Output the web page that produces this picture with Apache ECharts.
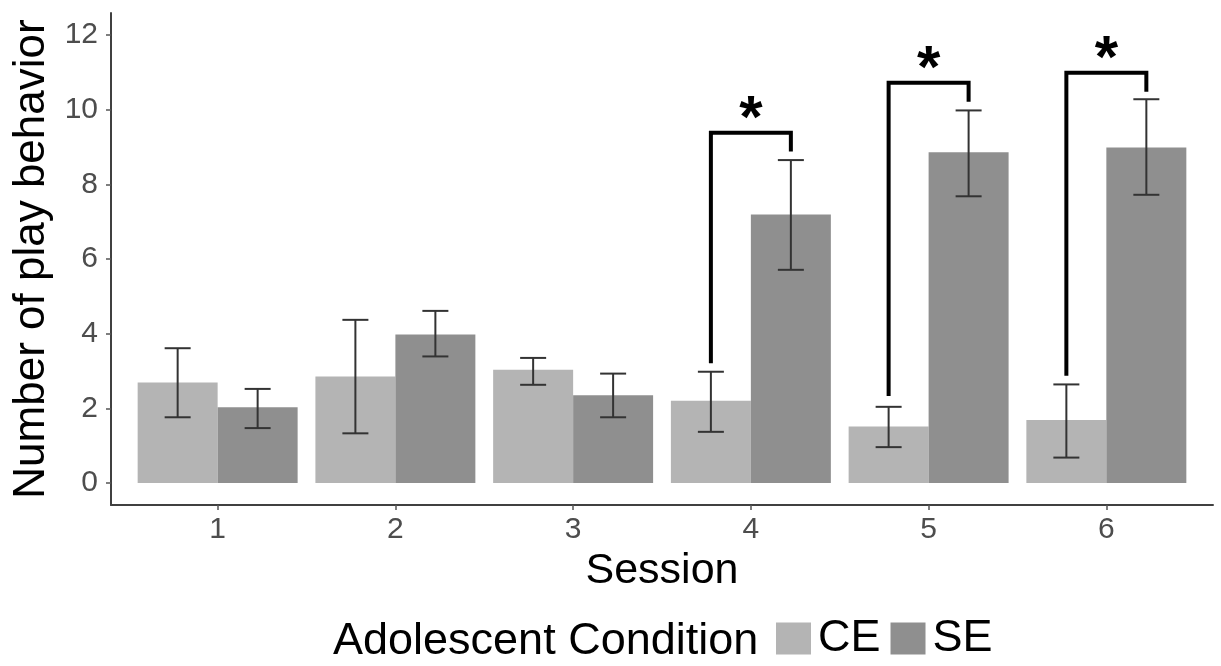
<!DOCTYPE html>
<html>
<head>
<meta charset="utf-8">
<script src="https://cdn.jsdelivr.net/npm/echarts@6/dist/echarts.min.js"></script>
<style>
html,body{margin:0;padding:0;background:#fff;}
#chart{width:1221px;height:666px;}
</style>
</head>
<body>
<div id="chart"></div>
<script>
// ---- data ----
var sessions = [1, 2, 3, 4, 5, 6];
var ceMean = [2.69, 2.85, 3.03, 2.20, 1.51, 1.69];
var ceLow  = [1.76, 1.33, 2.63, 1.37, 0.96, 0.68];
var ceHigh = [3.61, 4.37, 3.35, 2.98, 2.04, 2.64];
var seMean = [2.03, 3.98, 2.35, 7.19, 8.86, 8.99];
var seLow  = [1.47, 3.39, 1.76, 5.71, 7.68, 7.72];
var seHigh = [2.52, 4.61, 2.93, 8.65, 9.98, 10.28];
var bracketSession = [4, 5, 6];
var bracketLeftStart = [3.21, 2.33, 2.87];
var bracketTop = [9.38, 10.72, 10.99];
var bracketRightEnd = [8.88, 10.21, 10.48];
var bracketLabel = ['*', '*', '*'];
var xTicks = [1, 2, 3, 4, 5, 6];
var yTicks = [0, 2, 4, 6, 8, 10, 12];

// ---- layout / style ----
var FONT = "'Liberation Sans', Arial, Helvetica, sans-serif";
var CE_COLOR = '#b4b4b4';
var SE_COLOR = '#8f8f8f';
var DODGE = 0.225;   // bar center offset within a session
var HALF_BAR = 0.225;

function barSeries(name, offset, means, color) {
  return {
    name: name,
    type: 'custom',
    itemStyle: { color: color },
    encode: { x: 0, y: 1 },
    data: sessions.map(function (s, i) { return [s, means[i]]; }),
    renderItem: function (params, api) {
      var x = api.value(0) + offset;
      var y = api.value(1);
      var p0 = api.coord([x - HALF_BAR, y]);
      var p1 = api.coord([x + HALF_BAR, 0]);
      return {
        type: 'rect',
        shape: { x: p0[0], y: p0[1], width: p1[0] - p0[0], height: p1[1] - p0[1] },
        style: { fill: color }
      };
    }
  };
}

function errSeries(offset, lows, highs) {
  return {
    type: 'custom',
    silent: true,
    encode: { x: 0, y: [1, 2] },
    data: sessions.map(function (s, i) { return [s, lows[i], highs[i]]; }),
    renderItem: function (params, api) {
      var x = api.value(0) + offset;
      var lo = api.coord([x, api.value(1)]);
      var hi = api.coord([x, api.value(2)]);
      var hw = 13;
      var st = { stroke: '#333333', lineWidth: 2, fill: null };
      return {
        type: 'group',
        children: [
          { type: 'line', shape: { x1: lo[0], y1: lo[1], x2: hi[0], y2: hi[1] }, style: st },
          { type: 'line', shape: { x1: lo[0] - hw, y1: lo[1], x2: lo[0] + hw, y2: lo[1] }, style: st },
          { type: 'line', shape: { x1: hi[0] - hw, y1: hi[1], x2: hi[0] + hw, y2: hi[1] }, style: st }
        ]
      };
    }
  };
}

var bracketSeries = {
  type: 'custom',
  silent: true,
  encode: { x: 0, y: [1, 2, 3] },
  data: bracketSession.map(function (s, i) {
    return [s, bracketLeftStart[i], bracketTop[i], bracketRightEnd[i]];
  }),
  renderItem: function (params, api) {
    var s = api.value(0);
    var a = api.coord([s - DODGE, api.value(1)]);
    var b = api.coord([s - DODGE, api.value(2)]);
    var c = api.coord([s + DODGE, api.value(2)]);
    var d = api.coord([s + DODGE, api.value(3)]);
    var mid = api.coord([s, api.value(2)]);
    return {
      type: 'group',
      children: [
        {
          type: 'polyline',
          shape: { points: [a, b, c, d] },
          style: { stroke: '#000', lineWidth: 4, fill: null, lineJoin: 'miter', lineCap: 'butt' }
        },
        {
          type: 'text',
          x: mid[0],
          y: mid[1] - 12,
          style: {
            text: bracketLabel[params.dataIndex],
            fill: '#000',
            font: 'bold 60px ' + FONT,
            align: 'center',
            verticalAlign: 'middle'
          }
        }
      ]
    };
  }
};

var chart = echarts.init(document.getElementById('chart'), null, { renderer: 'canvas' });
chart.setOption({
  animation: false,
  backgroundColor: '#ffffff',
  grid: { left: 111, right: 8, top: 13, bottom: 161, containLabel: false },
  title: {
    text: 'Adolescent Condition',
    left: 333,
    top: 619,
    padding: 0,
    textStyle: { fontFamily: FONT, fontSize: 45, fontWeight: 'normal', color: '#000' }
  },
  legend: {
    data: ['CE', 'SE'],
    left: 776,
    top: 616,
    padding: 0,
    icon: 'rect',
    itemWidth: 35,
    itemHeight: 32,
    itemGap: 10,
    textStyle: { fontFamily: FONT, fontSize: 45, color: '#000', padding: [0, 0, 0, 2] }
  },
  xAxis: {
    type: 'value',
    min: 0.4,
    max: 6.6,
    name: 'Session',
    nameLocation: 'middle',
    nameGap: 44,
    nameTextStyle: { fontFamily: FONT, fontSize: 43, color: '#000' },
    axisLine: { show: true, onZero: false, lineStyle: { color: '#404040', width: 2 } },
    axisTick: { show: true, length: 5, customValues: xTicks, lineStyle: { color: '#555', width: 1.5 } },
    axisLabel: { customValues: xTicks, margin: 10, fontFamily: FONT, fontSize: 30, color: '#4d4d4d' },
    splitLine: { show: false }
  },
  yAxis: {
    type: 'value',
    min: -0.59,
    max: 12.59,
    name: 'Number of play behavior',
    nameLocation: 'middle',
    nameGap: 55,
    nameRotate: 90,
    nameTextStyle: { fontFamily: FONT, fontSize: 44, color: '#000' },
    axisLine: { show: true, onZero: false, lineStyle: { color: '#404040', width: 2 } },
    axisTick: { show: true, length: 5, customValues: yTicks, lineStyle: { color: '#555', width: 1.5 } },
    axisLabel: { customValues: yTicks, margin: 13, fontFamily: FONT, fontSize: 30, color: '#4d4d4d' },
    splitLine: { show: false }
  },
  series: [
    barSeries('CE', -DODGE, ceMean, CE_COLOR),
    barSeries('SE', DODGE, seMean, SE_COLOR),
    errSeries(-DODGE, ceLow, ceHigh),
    errSeries(DODGE, seLow, seHigh),
    bracketSeries
  ]
});
</script>
</body>
</html>
